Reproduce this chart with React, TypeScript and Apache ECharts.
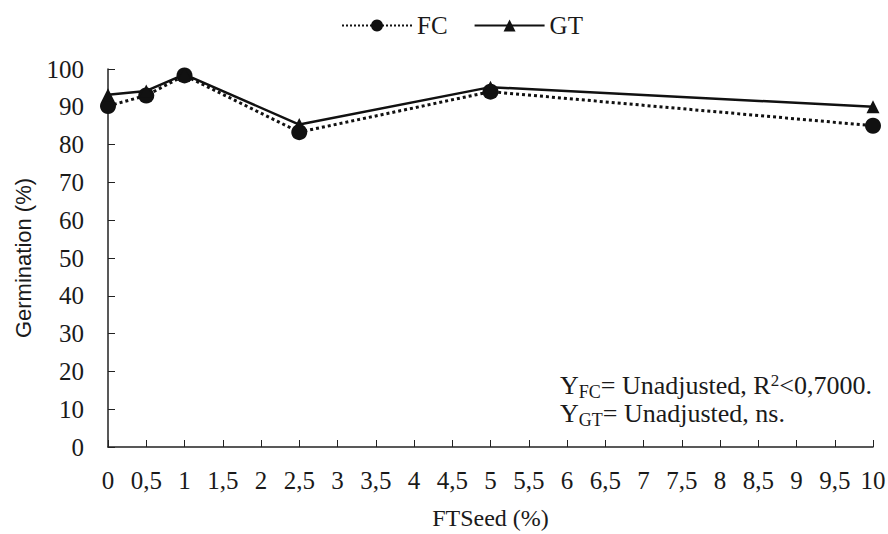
import React, { useEffect, useRef } from "react";
import * as echarts from "echarts";

const doses = [0, 0.5, 1, 2.5, 5, 10];
const fcValues = [90.2, 93, 98.3, 83.3, 94, 85];
const gtValues = [93.2, 94.2, 98.6, 85.3, 95.2, 90];
const yTicks = { min: 0, max: 100, interval: 10 };
const xTicks = { min: 0, max: 10, interval: 0.5 };

const SERIF = "'Liberation Serif', 'DejaVu Serif', 'Times New Roman', serif";
const SANS = "'Liberation Sans', Arial, sans-serif";
const INK = "#1a1a1a";

export default function App() {
  const ref = useRef<HTMLDivElement>(null);
  useEffect(() => {
    if (!ref.current) return;
    const chart = echarts.init(ref.current, null, { renderer: "svg" });
    const fc = doses.map((d, i) => [d, fcValues[i]]);
    const gt = doses.map((d, i) => [d, gtValues[i]]);
    chart.setOption({
      animation: false,
      textStyle: { fontFamily: SERIF, color: INK },
      legend: {
        top: 8,
        left: 336,
        itemWidth: 70,
        itemHeight: 15,
        itemGap: 26,
        textStyle: { fontFamily: SERIF, fontSize: 25, color: INK },
        data: ["FC", "GT"],
      },
      grid: {
        left: 108,
        right: 15,
        top: 69,
        bottom: 87,
        containLabel: false,
        outerBoundsMode: "none",
      },
      xAxis: {
        type: "value",
        min: xTicks.min,
        max: xTicks.max,
        interval: xTicks.interval,
        name: "FTSeed (%)",
        nameLocation: "middle",
        nameGap: 59,
        nameTextStyle: { fontFamily: SERIF, fontSize: 24, color: INK },
        axisLine: { lineStyle: { color: "#222", width: 1.5 } },
        axisTick: { inside: true, length: 7, lineStyle: { color: "#222" } },
        axisLabel: {
          fontFamily: SERIF,
          fontSize: 25,
          color: INK,
          margin: 21,
          formatter: (v: number) => String(v).replace(".", ","),
        },
        splitLine: { show: false },
      },
      yAxis: {
        type: "value",
        min: yTicks.min,
        max: yTicks.max,
        interval: yTicks.interval,
        name: "Germination (%)",
        nameLocation: "middle",
        nameGap: 74,
        nameTextStyle: { fontFamily: SANS, fontSize: 22, color: INK },
        axisLine: { show: true, lineStyle: { color: "#222", width: 1.5 } },
        axisTick: { show: true, inside: true, length: 7, lineStyle: { color: "#222" } },
        axisLabel: { fontFamily: SERIF, fontSize: 25, color: INK, margin: 24 },
        splitLine: { show: false },
      },
      series: [
        {
          name: "FC",
          type: "line",
          data: fc,
          symbol: "circle",
          symbolSize: 16,
          lineStyle: { color: "#111", width: 3, type: "dotted" },
          itemStyle: { color: "#111" },
          z: 2,
        },
        {
          name: "GT",
          type: "line",
          data: gt,
          symbol: "triangle",
          symbolSize: 13,
          lineStyle: { color: "#111", width: 2.5, type: "solid" },
          itemStyle: { color: "#111" },
          z: 3,
        },
      ],
      graphic: [
        {
          type: "text",
          left: 560,
          top: 372,
          style: {
            text: "{y|Y}{s|FC}{y|= Unadjusted, R}{sup|2}{y|<0,7000.}",
            rich: {
              y: { fontFamily: SERIF, fontSize: 26, fill: INK, verticalAlign: "bottom" },
              s: { fontFamily: SERIF, fontSize: 18, fill: INK, verticalAlign: "bottom", padding: [0, 0, -3, 0] },
              sup: { fontFamily: SERIF, fontSize: 17, fill: INK, verticalAlign: "top", padding: [0, 0, 9, 0] },
            },
          },
        },
        {
          type: "text",
          left: 560,
          top: 400,
          style: {
            text: "{y|Y}{s|GT}{y|= Unadjusted, ns.}",
            rich: {
              y: { fontFamily: SERIF, fontSize: 26, fill: INK, verticalAlign: "bottom" },
              s: { fontFamily: SERIF, fontSize: 18, fill: INK, verticalAlign: "bottom", padding: [0, 0, -3, 0] },
            },
          },
        },
      ],
    });
    return () => chart.dispose();
  }, []);
  return (
    <div
      ref={ref}
      style={{ position: "absolute", left: 0, top: 0, width: 888, height: 534 }}
    />
  );
}
